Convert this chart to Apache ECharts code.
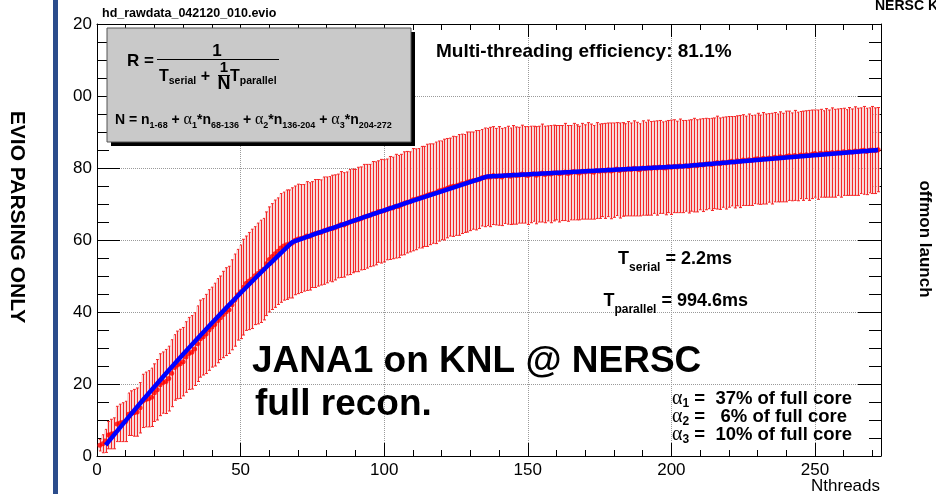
<!DOCTYPE html>
<html><head><meta charset="utf-8">
<script src="https://cdn.jsdelivr.net/npm/echarts@6/dist/echarts.min.js"></script>
<style>html,body{margin:0;padding:0;background:#fff}#c{width:936px;height:494px}</style>
</head><body><div id="c"></div>
<script>
// Measured rate per thread count (N = 1..272)
const rate = [
3.0,3.4,4.2,5.8,6.1,6.3,8.9,9.2,9.4,9.6,
11.6,11.9,12.0,12.2,13.4,15.3,15.7,15.9,16.3,17.6,
18.4,19.8,20.4,20.7,21.5,23.0,24.6,25.3,25.6,26.2,
27.5,28.5,28.8,29.7,31.2,32.6,33.1,33.9,35.0,35.8,
36.5,37.6,38.4,39.3,40.1,40.6,42.0,43.3,44.8,45.6,
46.9,48.0,48.6,49.2,50.1,50.7,51.3,51.9,53.4,54.6,
55.4,56.2,56.9,57.8,58.3,58.7,58.9,59.2,
59.9,60.3,60.4,60.6,61.1,61.0,61.5,61.8,62.0,62.1,
62.6,62.8,63.1,63.2,63.5,63.9,64.3,64.2,64.6,65.0,
65.3,65.4,65.7,66.0,66.4,66.6,66.8,67.3,67.4,67.9,
68.0,68.1,68.5,68.9,68.9,69.4,69.3,69.8,70.2,70.5,
70.6,71.2,71.3,71.6,71.9,72.1,72.4,72.7,72.9,73.1,
73.6,73.8,74.0,74.4,74.7,74.9,75.0,75.3,75.6,75.7,
76.1,76.3,76.5,76.6,76.8,77.3,77.4,77.5,
77.5,77.9,77.6,77.8,77.5,77.9,78.0,77.7,78.1,77.9,
78.0,78.3,78.1,77.9,78.2,78.4,78.0,78.3,78.6,78.2,
78.5,78.3,78.6,78.7,78.4,78.6,78.9,78.5,78.7,79.0,
78.8,78.6,79.1,78.9,79.2,79.0,78.8,79.3,79.1,79.4,
79.2,79.5,79.2,79.4,79.7,79.3,79.6,79.5,79.8,79.6,
79.9,79.7,79.5,80.0,79.8,80.1,79.9,80.2,80.0,80.3,
80.1,80.0,80.4,80.2,80.5,80.3,80.6,80.4,
80.6,80.4,80.7,80.8,80.6,81.0,80.8,81.1,81.2,81.0,
81.3,81.5,81.2,81.6,81.4,81.7,81.9,81.6,82.0,81.8,
82.2,82.0,82.3,82.1,82.4,82.6,82.3,82.7,82.5,82.8,
82.6,83.0,82.8,83.1,82.9,83.2,83.4,83.1,83.5,83.2,
83.6,83.4,83.7,83.5,83.8,84.0,83.7,84.1,83.9,84.2,
84.0,84.3,84.1,84.4,84.2,84.5,84.3,84.6,84.4,84.7,
84.5,84.8,84.9,84.6,84.9,85.0,84.8,85.1
];
// Symmetric error per thread count
const rateErr = [
1.6,2.5,3.2,3.8,4.1,4.3,4.9,5.2,5.4,5.6,
5.9,6.2,6.5,6.7,7.0,7.4,7.6,7.8,8.1,8.0,
8.4,8.6,8.5,8.9,9.0,9.3,9.1,9.4,9.6,9.5,
9.8,10.0,10.2,10.1,10.5,10.7,10.6,11.0,11.2,11.1,
11.5,11.7,11.6,12.0,12.2,12.1,12.5,12.8,12.6,13.0,
13.3,13.1,13.5,13.8,13.6,14.0,14.2,14.1,14.4,14.6,
14.7,14.9,14.8,15.1,15.0,15.2,15.0,15.3,15.1,15.2,
15.0,14.8,15.1,14.9,14.7,15.0,14.8,14.6,14.9,14.7,
14.5,14.8,14.6,14.4,14.7,14.5,14.3,14.6,14.4,14.2,
14.5,14.3,14.6,14.4,14.2,14.5,14.3,14.1,14.4,14.2,
14.0,14.3,14.1,14.4,14.2,14.0,14.3,14.1,13.9,14.2,
14.0,13.8,14.1,13.9,14.2,14.0,13.8,14.1,13.9,13.7,
14.0,13.8,13.6,13.9,13.7,14.0,13.8,13.6,13.9,13.7,
13.5,13.8,13.6,13.4,13.7,13.5,13.8,13.6,13.4,13.7,
13.5,13.3,13.6,13.4,13.7,13.5,13.3,13.6,13.4,13.6,
13.4,13.2,13.5,13.3,13.6,13.4,13.2,13.5,13.3,13.1,
13.4,13.2,13.5,13.3,13.1,13.4,13.2,13.0,13.3,13.1,
13.4,13.2,13.0,13.3,13.1,12.9,13.2,13.0,13.3,13.1,
12.9,13.2,13.0,12.8,13.1,12.9,13.2,13.0,12.8,13.1,
12.9,13.2,13.0,12.8,13.1,12.9,12.7,13.0,12.8,13.1,
12.9,12.7,13.0,12.8,12.6,12.9,12.7,13.0,12.8,12.6,
12.9,12.7,12.5,12.8,12.6,12.9,12.7,12.5,12.8,12.6,
12.4,12.7,12.5,12.8,12.6,12.4,12.7,12.5,12.3,12.6,
12.4,12.7,12.5,12.3,12.6,12.4,12.2,12.5,12.3,12.6,
12.4,12.2,12.5,12.3,12.1,12.4,12.2,12.5,12.3,12.1,
12.4,12.2,12.0,12.3,12.1,12.4,12.2,12.0,12.3,12.1,
11.9,12.2,12.0,12.3,12.1,11.9,12.2,12.0,11.8,12.1,
11.9,11.7
];
// Fit curve (blue)
const fitN = [3,4,6,8,10,13,16,20,25,30,35,40,45,50,55,60,64,68,76,84,92,100,108,116,124,132,136,170,204,238,272];
const fitRate = [3.00,3.99,5.95,7.90,9.84,12.71,15.54,19.26,23.82,28.29,32.66,36.95,41.15,45.27,49.30,53.26,56.37,59.43,61.67,63.88,66.06,68.23,70.36,72.48,74.57,76.64,77.66,79.07,80.46,82.76,85.03];

const F = "'Liberation Sans', Arial, Helvetica, sans-serif";
const FS = "'Liberation Serif', 'DejaVu Serif', serif";

const bars = rate.map((v, i) => [i + 1, v - rateErr[i], v + rateErr[i]]);
const pts = rate.map((v, i) => [i + 1, v]);
const fit = fitN.map((n, i) => [n, fitRate[i]]);

function mkX(pos, interval, len, major) {
  return {
    type: 'value', min: 0, max: 273, interval: interval, position: pos,
    axisLine: { show: major, onZero: false, lineStyle: { color: '#000', width: 1 } },
    axisTick: { show: true, inside: true, length: len, lineStyle: { color: '#000', width: 1 } },
    axisLabel: { show: pos === 'bottom' && major, color: '#000', fontSize: 17, fontFamily: F, margin: 6, showMaxLabel: false },
    splitLine: { show: pos === 'bottom' && major, lineStyle: { color: '#9a9a9a', type: 'dotted', width: 1 } },
    minorTick: { show: false }, minorSplitLine: { show: false }
  };
}
function mkY(pos, interval, len, major) {
  return {
    type: 'value', min: 0, max: 120, interval: interval, position: pos,
    axisLine: { show: major, onZero: false, lineStyle: { color: '#000', width: 1 } },
    axisTick: { show: true, inside: true, length: len, lineStyle: { color: '#000', width: 1 } },
    axisLabel: { show: pos === 'left' && major, color: '#000', fontSize: 17, fontFamily: F, margin: 5,
      formatter: v => (v >= 100 ? String(v).slice(1) : String(v)) },
    splitLine: { show: pos === 'left' && major, lineStyle: { color: '#9a9a9a', type: 'dotted', width: 1 } },
    minorTick: { show: false }, minorSplitLine: { show: false }
  };
}

const txt = (x, y, text, font, extra) => Object.assign({
  type: 'text', x: x, y: y, z: 100,
  style: Object.assign({ text: text, font: font, fill: '#000', align: 'left', verticalAlign: 'middle' }, extra || {})
});

const graphics = [
  { type: 'rect', z: 100, shape: { x: 53, y: 0, width: 5, height: 494 }, style: { fill: '#2b4c8c' } },
  { type: 'text', z: 100, x: 17, y: 217, rotation: -Math.PI / 2,
    style: { text: 'EVIO PARSING ONLY', font: 'bold 21px ' + F, fill: '#000', align: 'center', verticalAlign: 'middle' } },
  { type: 'text', z: 100, x: 925, y: 239, rotation: -Math.PI / 2,
    style: { text: 'offmon launch', font: 'bold 17px ' + F, fill: '#000', align: 'center', verticalAlign: 'middle' } },
  txt(875, 6, 'NERSC KNL', 'bold 14px ' + F),
  txt(102, 14, 'hd_rawdata_042120_010.evio', 'bold 12.5px ' + F),
  // formula box
  { type: 'rect', z: 100, shape: { x: 111, y: 32, width: 304, height: 114 }, style: { fill: '#000' } },
  { type: 'rect', z: 100, shape: { x: 107, y: 28, width: 304, height: 114 }, style: { fill: '#c9c9c9', stroke: '#555', lineWidth: 1 } },
  txt(127, 61, 'R =', 'bold 17px ' + F),
  txt(217, 51, '1', 'bold 17px ' + F, { align: 'center' }),
  { type: 'line', z: 100, shape: { x1: 157, y1: 59.5, x2: 279, y2: 59.5 }, style: { stroke: '#000', lineWidth: 1 } },
  { type: 'text', z: 100, x: 159, y: 77, style: {
      text: '{T|T}{s|serial}{T| +}', align: 'left', verticalAlign: 'middle',
      rich: { T: { font: 'bold 16px ' + F, fill: '#000', lineHeight: 19 }, s: { font: 'bold 10.5px ' + F, fill: '#000', verticalAlign: 'bottom' } } } },
  txt(224, 68, '1', 'bold 15px ' + F, { align: 'center' }),
  { type: 'line', z: 100, shape: { x1: 218, y1: 75.5, x2: 230, y2: 75.5 }, style: { stroke: '#000', lineWidth: 1 } },
  txt(224, 84.5, 'N', 'bold 18px ' + F, { align: 'center' }),
  { type: 'text', z: 100, x: 230, y: 77, style: {
      text: '{T|T}{s|parallel}', align: 'left', verticalAlign: 'middle',
      rich: { T: { font: 'bold 16px ' + F, fill: '#000', lineHeight: 19 }, s: { font: 'bold 10.5px ' + F, fill: '#000', verticalAlign: 'bottom' } } } },
  { type: 'text', z: 100, x: 115, y: 120, style: {
      text: '{b|N = n}{s|1-68}{b| + }{a|α}{s|1}{b|*n}{s|68-136}{b| + }{a|α}{s|2}{b|*n}{s|136-204}{b| + }{a|α}{s|3}{b|*n}{s|204-272}',
      align: 'left', verticalAlign: 'middle',
      rich: { b: { font: 'bold 14px ' + F, fill: '#000', lineHeight: 20 }, s: { font: 'bold 9px ' + F, fill: '#000', verticalAlign: 'bottom' },
              a: { font: '16px ' + FS, fill: '#000', lineHeight: 20 } } } },
  // annotations in plot
  txt(436, 52, 'Multi-threading efficiency: 81.1%', 'bold 19px ' + F),
  { type: 'text', z: 100, x: 732, y: 259.5, style: {
      text: '{T|T}{s|serial}{T| = 2.2ms}', align: 'right', verticalAlign: 'middle',
      rich: { T: { font: 'bold 18px ' + F, fill: '#000', lineHeight: 28 }, s: { font: 'bold 12px ' + F, fill: '#000', verticalAlign: 'bottom' } } } },
  { type: 'text', z: 100, x: 748, y: 301.5, style: {
      text: '{T|T}{s|parallel}{T| = 994.6ms}', align: 'right', verticalAlign: 'middle',
      rich: { T: { font: 'bold 18px ' + F, fill: '#000', lineHeight: 28 }, s: { font: 'bold 12px ' + F, fill: '#000', verticalAlign: 'bottom' } } } },
  txt(252, 362, 'JANA1 on KNL @ NERSC', 'bold 37px ' + F),
  txt(255, 405, 'full recon.', 'bold 37px ' + F),
  txt(880, 486.5, 'Nthreads', '17px ' + F, { align: 'right' })
];
const alphaLines = [['1', ' =  37% of full core'], ['2', ' =   6% of full core'], ['3', ' =  10% of full core']];
alphaLines.forEach((l, i) => {
  graphics.push({ type: 'text', z: 100, x: 672, y: 399 + 18 * i, style: {
    text: '{a|α}{s|' + l[0] + '}{b|' + l[1] + '}', align: 'left', verticalAlign: 'middle',
    rich: { a: { font: '20px ' + FS, fill: '#000', lineHeight: 22 }, b: { font: 'bold 18.5px ' + F, fill: '#000', lineHeight: 22 },
            s: { font: 'bold 12px ' + F, fill: '#000', verticalAlign: 'bottom' } } } });
});

const chart = echarts.init(document.getElementById('c'), null, { renderer: 'canvas', width: 936, height: 494 });
chart.setOption({
  animation: false,
  backgroundColor: '#fff',
  grid: { left: 97, right: 55, top: 24, bottom: 38, containLabel: false, outerBoundsMode: 'none' },
  xAxis: [mkX('bottom', 50, 13, true), mkX('bottom', 10, 6, false), mkX('top', 50, 13, true), mkX('top', 10, 6, false)],
  yAxis: [mkY('left', 20, 23, true), mkY('left', 5, 12, false), mkY('right', 20, 23, true), mkY('right', 5, 12, false)],
  series: [
    {
      type: 'custom', xAxisIndex: 0, yAxisIndex: 0, clip: true, data: bars,
      encode: { x: 0, y: [1, 2] },
      renderItem: function (params, api) {
        const x = api.value(0);
        const top = api.coord([x, api.value(2)]);
        const bot = api.coord([x, api.value(1)]);
        const w = api.size([1, 0])[0];
        const cx = Math.round(top[0]) + 0.5;
        return { type: 'group', children: [
          { type: 'rect', shape: { x: top[0] - w / 2, y: top[1], width: w, height: bot[1] - top[1] }, style: { fill: '#f6d6d6' } },
          { type: 'line', shape: { x1: cx, y1: top[1], x2: cx, y2: bot[1] }, style: { stroke: '#f52828', lineWidth: 1 } },
          { type: 'line', shape: { x1: cx - 1.5, y1: top[1], x2: cx + 1.5, y2: top[1] }, style: { stroke: '#f52828', lineWidth: 1 } },
          { type: 'line', shape: { x1: cx - 1.5, y1: bot[1], x2: cx + 1.5, y2: bot[1] }, style: { stroke: '#f52828', lineWidth: 1 } }
        ] };
      }
    },
    { type: 'scatter', xAxisIndex: 0, yAxisIndex: 0, data: pts, symbol: 'circle', symbolSize: 5,
      itemStyle: { color: '#ff0000' }, silent: true },
    { type: 'line', xAxisIndex: 0, yAxisIndex: 0, data: fit, symbol: 'none', smooth: false,
      lineStyle: { color: '#0000ff', width: 4.5 }, silent: true }
  ],
  graphic: graphics
});
</script>
</body></html>
